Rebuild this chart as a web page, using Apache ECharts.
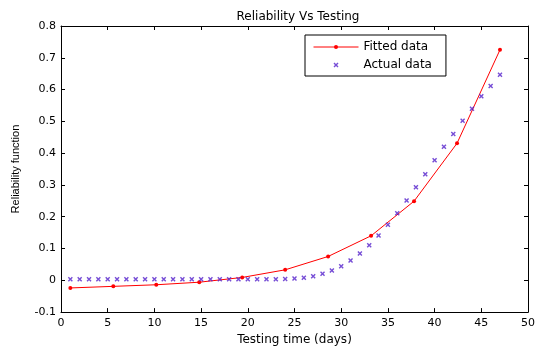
<!DOCTYPE html>
<html>
<head>
<meta charset="utf-8">
<script src="https://cdn.jsdelivr.net/npm/echarts@6/dist/echarts.min.js"></script>
<style>
html,body{margin:0;padding:0;background:#fff;}
#c{width:538px;height:351px;}
</style>
</head>
<body>
<div id="c"></div>
<script>
var fittedX = [1, 5.6, 10.2, 14.8, 19.4, 24, 28.6, 33.2, 37.8, 42.4, 47];
var fittedY = [-0.024, -0.019, -0.014, -0.006, 0.009, 0.033, 0.075, 0.140, 0.249, 0.431, 0.725];
var actualX = [1,2,3,4,5,6,7,8,9,10,11,12,13,14,15,16,17,18,19,20,21,22,23,24,25,26,27,28,29,30,31,32,33,34,35,36,37,38,39,40,41,42,43,44,45,46,47];
var actualY = [0.003,0.003,0.003,0.003,0.003,0.003,0.003,0.003,0.003,0.003,0.003,0.003,0.003,0.003,0.003,0.003,0.003,0.003,0.003,0.003,0.003,0.003,0.003,0.004,0.006,0.008,0.013,0.021,0.031,0.044,0.062,0.084,0.110,0.141,0.175,0.211,0.251,0.293,0.334,0.378,0.420,0.460,0.502,0.540,0.579,0.611,0.647];
var xTicks = [0,5,10,15,20,25,30,35,40,45,50];
var yTicks = [-0.1,0,0.1,0.2,0.3,0.4,0.5,0.6,0.7,0.8];

var wide = '"DejaVu Sans", sans-serif';
var narrow = '"Liberation Sans", Arial, sans-serif';
var xMark = 'path://M0,2L2,0L5,3L8,0L10,2L7,5L10,8L8,10L5,7L2,10L0,8L3,5Z';

var chart = echarts.init(document.getElementById('c'), null, {renderer:'canvas'});
function pair(xs, ys){ return xs.map(function(x,i){ return [x, ys[i]]; }); }
var axisCommon = {
  axisLine:{show:true,onZero:false,lineStyle:{color:'#000',width:1}},
  axisTick:{show:true,inside:true,length:4,lineStyle:{color:'#000'}},
  splitLine:{show:false}
};
chart.setOption({
  animation:false,
  backgroundColor:'#fff',
  title:{text:'Reliability Vs Testing',left:293,top:6,textAlign:'center',
    textStyle:{fontFamily:wide,fontSize:12,fontWeight:'normal',color:'#000'}},
  grid:{left:61,right:5,top:26,bottom:36},
  legend:{
    left:305, top:35, orient:'vertical', itemWidth:45, itemHeight:5, itemGap:6,
    padding:[6,14,5,8],
    borderColor:'#000', borderWidth:1, backgroundColor:'#fff',
    lineStyle:{width:1},
    textStyle:{fontFamily:wide,fontSize:12,color:'#000'},
    data:['Fitted data','Actual data']
  },
  xAxis:[
    Object.assign({type:'value',min:0,max:50,interval:5,position:'bottom',
      name:'Testing time (days)',nameLocation:'middle',nameGap:21,
      nameTextStyle:{fontFamily:wide,fontSize:12,color:'#000'},
      axisLabel:{fontFamily:wide,fontSize:11,color:'#000',margin:6,
        formatter:function(v){return xTicks.indexOf(v)>=0?String(v):'';}}}, axisCommon),
    Object.assign({type:'value',min:0,max:50,interval:5,position:'top',axisLabel:{show:false}}, axisCommon)
  ],
  yAxis:[
    Object.assign({type:'value',min:-0.1,max:0.8,interval:0.1,position:'left',
      name:'Reliability function',nameLocation:'middle',nameGap:40,
      nameTextStyle:{fontFamily:narrow,fontSize:11,color:'#000'},
      axisLabel:{fontFamily:wide,fontSize:11,color:'#000',margin:5,
        formatter:function(v){return String(+v.toFixed(1));}}}, axisCommon),
    Object.assign({type:'value',min:-0.1,max:0.8,interval:0.1,position:'right',axisLabel:{show:false}}, axisCommon)
  ],
  series:[
    {name:'Fitted data',type:'line',data:pair(fittedX,fittedY),
      symbol:'circle',symbolSize:4,showSymbol:true,
      lineStyle:{color:'#ff0000',width:1},itemStyle:{color:'#ff0000'},z:3},
    {name:'Actual data',type:'scatter',data:pair(actualX,actualY),
      symbol:xMark,symbolSize:5,itemStyle:{color:'#5522cc'},z:4}
  ]
});
</script>
</body>
</html>
